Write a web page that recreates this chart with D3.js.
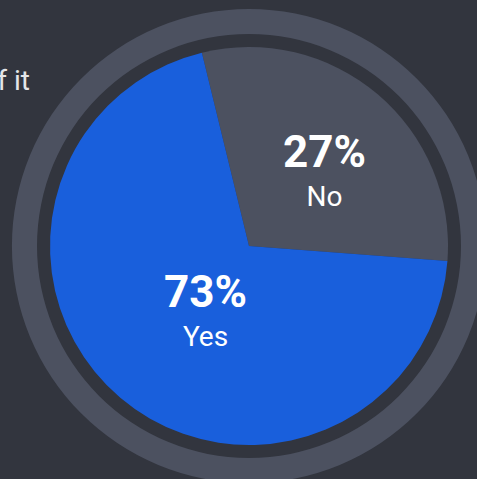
<!DOCTYPE html>
<html>
<head>
<meta charset="utf-8">
<script src="https://cdn.jsdelivr.net/npm/d3@7"></script>
<style>
  html, body { margin: 0; padding: 0; background: #32353e; overflow: hidden; }
  svg { display: block; font-family: Roboto, "Noto Sans", sans-serif; }
</style>
</head>
<body>
<div id="chart"></div>
<script>
const categories = ['No', 'Yes'];
// slice sizes as drawn in the picture
const sliceValues = [30, 70];
// percentages printed on the slices
const percentLabels = ['27%', '73%'];
const colors = ['#4c5160', '#195fdc'];

const WIDTH = 477;
const HEIGHT = 479;
const CX = 249;
const CY = 246;
const RADIUS = 199;

const svg = d3.select('#chart').append('svg')
  .attr('width', WIDTH)
  .attr('height', HEIGHT);

// caption on the left, cut off by the edge
svg.append('text')
  .attr('x', 30)
  .attr('y', 90)
  .attr('text-anchor', 'end')
  .attr('fill', '#e4e5e8')
  .style('font-size', '28px')
  .text('of it');

const g = svg.append('g')
  .attr('transform', `translate(${CX},${CY})`);

// outer ring
g.append('path')
  .attr('d', d3.arc()({ innerRadius: 212, outerRadius: 237, startAngle: 0, endAngle: 2 * Math.PI }))
  .attr('fill', '#4c5160');

const start = -13.7 * Math.PI / 180;
const pie = d3.pie()
  .sort(null)
  .startAngle(start)
  .endAngle(start + 2 * Math.PI);

const arcs = pie(sliceValues);
const arc = d3.arc().innerRadius(0).outerRadius(RADIUS);
const labelArc = d3.arc().innerRadius(92).outerRadius(92);

g.selectAll('path.slice')
  .data(arcs)
  .enter().append('path')
  .attr('class', 'slice')
  .attr('d', arc)
  .attr('fill', (d, i) => colors[i]);

const labels = g.selectAll('g.label')
  .data(arcs)
  .enter().append('g')
  .attr('class', 'label')
  .attr('transform', d => {
    const [x, y] = labelArc.centroid(d);
    return `translate(${x + 16},${y - 7})`;
  });

labels.append('text')
  .attr('text-anchor', 'middle')
  .attr('y', -2)
  .attr('fill', '#ffffff')
  .style('font-size', '44px')
  .style('font-weight', 'bold')
  .text((d, i) => percentLabels[i]);

labels.append('text')
  .attr('text-anchor', 'middle')
  .attr('y', 37)
  .attr('fill', '#ffffff')
  .style('font-size', '28px')
  .text((d, i) => categories[i]);
</script>
</body>
</html>
